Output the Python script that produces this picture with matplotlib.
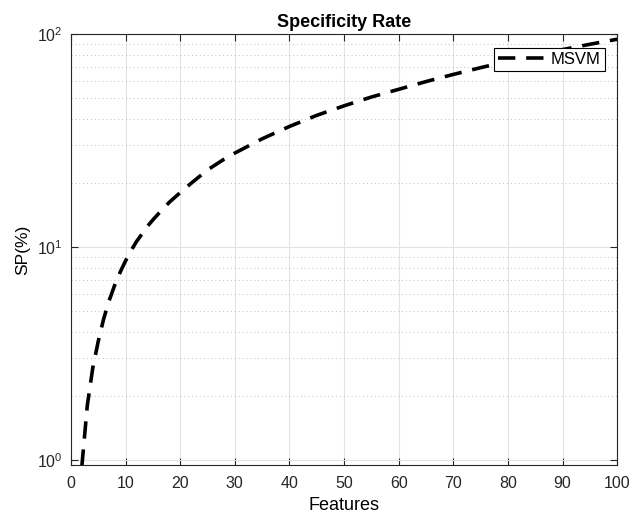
import matplotlib
matplotlib.use("Agg")
import matplotlib.pyplot as plt
from matplotlib.ticker import LogLocator, NullFormatter, FixedLocator

# values
features = [2, 3, 4, 5, 6, 7, 8, 9, 10, 11, 12, 13, 14, 15, 16, 18, 20, 22,
            25, 28, 30, 35, 40, 45, 50, 55, 60, 65, 70, 75, 80, 85, 90, 95, 100]
sp_msvm = [0.93, 1.8, 2.7, 3.6, 4.6, 5.6, 6.6, 7.6, 8.6, 9.6, 10.6, 11.5,
           12.5, 13.4, 14.3, 16.2, 18.0, 19.9, 23.0, 25.8, 27.6, 32.2, 36.8,
           41.5, 46.0, 50.6, 55.0, 59.8, 64.6, 69.5, 74.5, 79.5, 84.5, 89.5,
           94.5]
xticks = [0, 10, 20, 30, 40, 50, 60, 70, 80, 90, 100]

plt.rcParams['font.family'] = ['Liberation Sans', 'DejaVu Sans']
plt.rcParams['mathtext.fontset'] = 'custom'
plt.rcParams['mathtext.rm'] = 'Liberation Sans'
plt.rcParams['mathtext.it'] = 'Liberation Sans:italic'
plt.rcParams['mathtext.bf'] = 'Liberation Sans:bold'

fig = plt.figure(figsize=(6.33, 5.21), dpi=100)
ax = fig.add_axes([0.112, 0.1075, 0.863, 0.8272])

ax.plot(features, sp_msvm, color='black', linestyle=(0, (4.8, 3)),
        linewidth=2.6, label='MSVM')

ax.set_yscale('log')
ax.set_xlim(0, 100)
ax.set_ylim(0.947, 100)
ax.xaxis.set_major_locator(FixedLocator(xticks))
ax.yaxis.set_major_locator(LogLocator(base=10, numticks=5))
ax.yaxis.set_minor_locator(LogLocator(base=10, subs=range(2, 10), numticks=20))
ax.yaxis.set_minor_formatter(NullFormatter())

ax.grid(True, which='major', color='#e3e3e3', linewidth=0.8, linestyle='-')
ax.grid(True, which='minor', axis='y', color='#bdbdbd', linewidth=0.7,
        linestyle=(0, (1, 3)))
ax.set_axisbelow(True)

ax.tick_params(which='both', direction='in', top=True, right=True,
               colors='#262626', labelsize=11.5, labelcolor='#262626')
ax.tick_params(which='major', length=5)
ax.tick_params(which='minor', length=0)
ax.tick_params(axis='x', pad=8)
ax.tick_params(axis='y', pad=6)
for s in ax.spines.values():
    s.set_color('#262626')
    s.set_linewidth(0.8)

ax.set_title('Specificity Rate', fontsize=13, fontweight='bold', pad=5)
ax.set_xlabel('Features', fontsize=13, labelpad=4)
ax.set_ylabel('SP(%)', fontsize=12.5, labelpad=5)

leg = ax.legend(loc='upper right', fontsize=12, frameon=True, fancybox=False,
                borderpad=0.25, handlelength=3.0, handletextpad=0.2,
                bbox_to_anchor=(0.978, 0.968), borderaxespad=0)
leg.get_frame().set_edgecolor('black')
leg.get_frame().set_linewidth(0.8)
leg.get_frame().set_alpha(1)

fig.savefig('out.png', dpi=100)
